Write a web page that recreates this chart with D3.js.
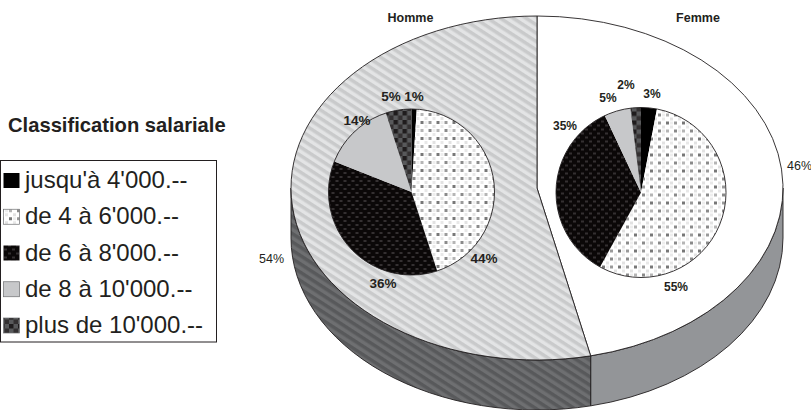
<!DOCTYPE html>
<html lang="fr">
<head>
<meta charset="UTF-8">
<title>Classification salariale</title>
<style>
*{margin:0;padding:0;}
body{background:#fff;overflow:hidden;}
svg{display:block;font-family:"Liberation Sans",Arial,sans-serif;}
text{fill:#231f20;}
</style>
</head>
<body>
<div id="container"></div>
<script src="https://d3js.org/d3.v7.min.js"></script>
<script>
var categories = ["jusqu'à 4'000.--", "de 4 à 6'000.--", "de 6 à 8'000.--", "de 8 à 10'000.--", "plus de 10'000.--"]
var sexes = ['Femme', 'Homme']
var sexValues = [46.5, 53.5]
var sexLabels = ['46%', '54%']
var femmeValues = [3, 55, 35, 5, 2]
var hommeValues = [1, 44, 36, 14, 5]

var width = 811, height = 410
var cx = 537, cy = 188, rx = 246, ry = 172, depth = 50

var svg = d3.select('#container').append('svg').attr('width', width).attr('height', height)
var defs = svg.append('defs')

// stripes, used for the Homme slice and its wall
function stripes(id, bg, fg) {
	var p = defs.append('pattern').attr('id', id).attr('patternUnits', 'userSpaceOnUse')
		.attr('width', 7).attr('height', 7).attr('patternTransform', 'rotate(33)')
	p.append('rect').attr('width', 7).attr('height', 7).attr('fill', bg)
	p.append('rect').attr('width', 7).attr('height', 3.5).attr('fill', fg)
}
stripes('hatchLight', '#e3e4e5', '#c9cacb')
stripes('hatchDark', '#6e6f71', '#58595b')

var dots = defs.append('pattern').attr('id', 'dots').attr('patternUnits', 'userSpaceOnUse')
	.attr('width', 16).attr('height', 16)
dots.append('rect').attr('width', 16).attr('height', 16).attr('fill', '#fff')
;[[1, 1, '#8a8a8a'], [9, 1, '#b5b5b5'], [1, 9, '#9a9a9a'], [9, 9, '#777'], [5, 5, '#e8e8e8'], [13, 5, '#e2e2e2'], [5, 13, '#e2e2e2'], [13, 13, '#e8e8e8'], [5, 1, '#eee'], [13, 9, '#eee']].forEach(function (d) {
	dots.append('rect').attr('x', d[0]).attr('y', d[1]).attr('width', 3).attr('height', 3).attr('fill', d[2])
})

var blackGrid = defs.append('pattern').attr('id', 'blackGrid').attr('patternUnits', 'userSpaceOnUse')
	.attr('width', 8).attr('height', 8)
blackGrid.append('rect').attr('width', 8).attr('height', 8).attr('fill', '#0b0808')
;[[0, 0], [4, 4]].forEach(function (d) {
	blackGrid.append('rect').attr('x', d[0]).attr('y', d[1]).attr('width', 3).attr('height', 2).attr('fill', '#343031')
})

var check = defs.append('pattern').attr('id', 'check').attr('patternUnits', 'userSpaceOnUse')
	.attr('width', 9).attr('height', 9)
check.append('rect').attr('width', 9).attr('height', 9).attr('fill', '#58595b')
check.append('rect').attr('width', 4.5).attr('height', 4.5).attr('fill', '#1f1c1d')
check.append('rect').attr('x', 4.5).attr('y', 4.5).attr('width', 4.5).attr('height', 4.5).attr('fill', '#333031')

var catFill = d3.scaleOrdinal().domain(categories)
	.range(['#000', 'url(#dots)', 'url(#blackGrid)', '#c7c8ca', 'url(#check)'])
var sexFill = d3.scaleOrdinal().domain(sexes).range(['#fff', 'url(#hatchLight)'])
var wallFill = d3.scaleOrdinal().domain(sexes).range(['#939598', 'url(#hatchDark)'])

var pie = d3.pie().sort(null)
var big = pie(sexValues).map(function (d, i) { return Object.assign(d, {name: sexes[i]}) })

// d3.arc only does circles and the big pie lies flat, so the ellipse is written by hand
function pt(a, dy) {
	return [cx + rx * Math.sin(a), cy - ry * Math.cos(a) + (dy || 0)]
}
function slicePath(d) {
	var p0 = pt(d.startAngle), p1 = pt(d.endAngle)
	var large = d.endAngle - d.startAngle > Math.PI ? 1 : 0
	return `M${cx},${cy}L${p0}A${rx},${ry} 0 ${large} 1 ${p1}Z`
}
function wallPath(d) {
	var a0 = Math.max(d.startAngle, Math.PI / 2), a1 = Math.min(d.endAngle, Math.PI * 1.5)
	return `M${pt(a0)}A${rx},${ry} 0 0 1 ${pt(a1)}L${pt(a1, depth)}A${rx},${ry} 0 0 0 ${pt(a0, depth)}Z`
}

svg.selectAll('.wall').data(big).enter().append('path').attr('class', 'wall')
	.attr('d', wallPath)
	.attr('fill', function (d) { return wallFill(d.name) })
	.attr('stroke', '#231f20').attr('stroke-width', 0.9)
svg.selectAll('.slice').data(big).enter().append('path').attr('class', 'slice')
	.attr('d', slicePath)
	.attr('fill', function (d) { return sexFill(d.name) })
	.attr('stroke', '#231f20').attr('stroke-width', 0.9)

// inner pies
var pies = [
	{name: 'Homme', values: hommeValues, x: 411.5, y: 192, r: 83, size: 13.5,
		titleX: 410.5, labels: [[414, 96], [484, 258], [383, 283], [357, 120], [391, 96]]},
	{name: 'Femme', values: femmeValues, x: 641, y: 192.5, r: 85, size: 12,
		titleX: 698, labels: [[652, 94], [676, 287], [565, 126], [608, 98], [626, 85]]}
]
pies.forEach(function (p) {
	var arc = d3.arc().innerRadius(0).outerRadius(p.r)
	var g = svg.append('g').attr('transform', `translate(${p.x},${p.y})`)
	g.selectAll('path').data(pie(p.values)).enter().append('path')
		.attr('d', arc)
		.attr('fill', function (d, i) { return catFill(categories[i]) })
	g.append('circle').attr('r', p.r).attr('fill', 'none').attr('stroke', '#231f20').attr('stroke-width', 0.9)
	svg.selectAll(null).data(p.values).enter().append('text')
		.text(function (d) { return d + '%' })
		.attr('x', function (d, i) { return p.labels[i][0] })
		.attr('y', function (d, i) { return p.labels[i][1] })
		.attr('dy', '.35em')
		.attr('text-anchor', 'middle')
		.attr('font-weight', 'bold')
		.attr('font-size', p.size)
	svg.append('text').text(p.name)
		.attr('x', p.titleX).attr('y', 22)
		.attr('text-anchor', 'middle').attr('font-weight', 'bold').attr('font-size', 12.5)
})

svg.selectAll('.outer').data([[799.5, 166], [271.5, 259]]).enter().append('text').attr('class', 'outer')
	.text(function (d, i) { return sexLabels[i] })
	.attr('x', function (d) { return d[0] })
	.attr('y', function (d) { return d[1] })
	.attr('dy', '.35em')
	.attr('text-anchor', 'middle')
	.attr('font-size', 12.5)

// legend
svg.append('text').text('Classification salariale')
	.attr('x', 8).attr('y', 132)
	.attr('font-weight', 'bold').attr('font-size', 20.2)
svg.append('rect').attr('x', 0.5).attr('y', 160.5).attr('width', 216).attr('height', 181.5)
	.attr('fill', '#fff').attr('stroke', '#231f20').attr('stroke-width', 1)
var rowY = d3.scalePoint().domain(categories).range([188, 333])
var row = svg.selectAll('.row').data(categories).enter().append('g').attr('class', 'row')
	.attr('transform', function (d) { return `translate(0,${rowY(d)})` })
row.append('rect')
	.attr('x', 3.5).attr('y', -15).attr('width', 16).attr('height', 15)
	.attr('fill', function (d) { return catFill(d) })
	.attr('stroke', function (d, i) { return i == 0 || i == 2 ? 'none' : '#6d6e71' })
	.attr('stroke-width', 0.7)
row.append('text').text(function (d) { return d })
	.attr('x', 25).attr('font-size', 24)
</script>
</body>
</html>
